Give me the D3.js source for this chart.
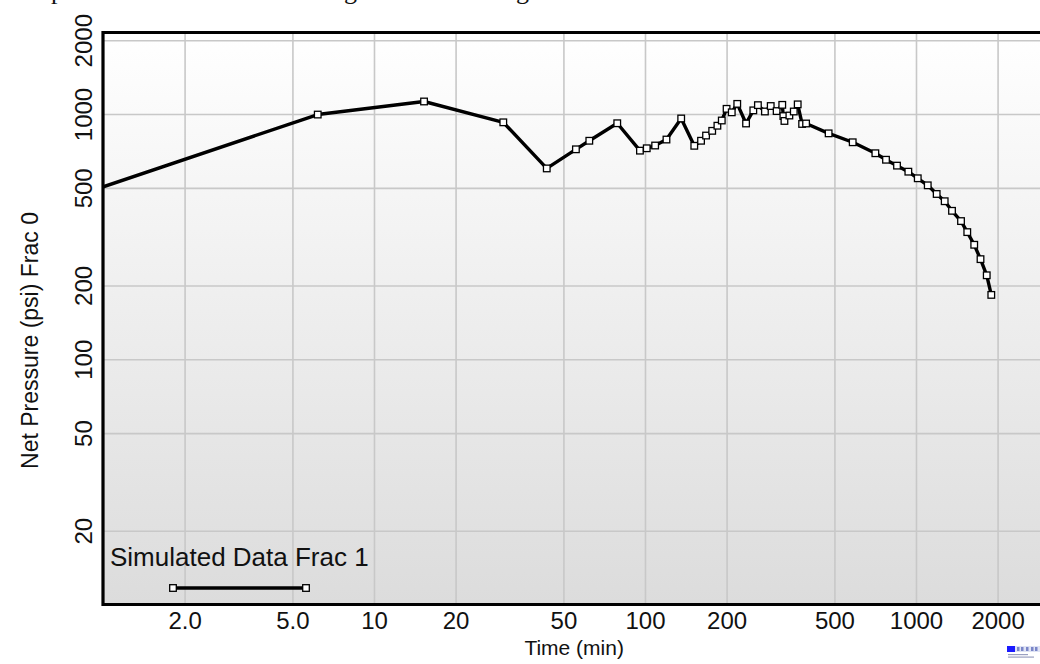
<!DOCTYPE html>
<html>
<head>
<meta charset="utf-8">
<script src="https://cdn.jsdelivr.net/npm/d3@7"></script>
<style>
  html, body { margin: 0; padding: 0; background: #ffffff; }
  svg { display: block; }
  text { font-family: "Liberation Sans", Arial, sans-serif; fill: #111; }
</style>
</head>
<body>
<svg id="chart" width="1040" height="664"></svg>
<script>
// Simulated net pressure history, fracture 1 (time in minutes, pressure in psi)
const timeMin = [
  0.9, 6.2, 15.3, 30, 43.4, 55.6, 62.3, 79, 95.8, 101.5,
  109, 120, 136, 152, 161, 168, 177, 185, 192, 200,
  209, 219, 236, 251, 261, 277, 291, 306, 321, 324,
  327, 341, 354, 366, 380, 393, 476, 584, 708, 775,
  851, 937, 1015, 1105, 1192, 1276, 1358, 1466, 1546, 1640,
  1730, 1824, 1896
];
const netPressure = [
  485, 995, 1125, 925, 600, 718, 778, 917, 709, 725,
  744, 787, 959, 742, 778, 817, 854, 896, 941, 1050,
  1016, 1100, 915, 1035, 1087, 1024, 1078, 1028, 1090, 981,
  937, 986, 1024, 1095, 911, 915, 834, 767, 692, 651,
  616, 582, 547, 512, 472, 441, 403, 366, 330, 293,
  256, 220, 183
];

// Axis ticks and their labels
const xTickValues = [2, 5, 10, 20, 50, 100, 200, 500, 1000, 2000];
const xTickLabels = ["2.0", "5.0", "10", "20", "50", "100", "200", "500", "1000", "2000"];
const yTickValues = [20, 50, 100, 200, 500, 1000, 2000];
const yTickLabels = ["20", "50", "100", "200", "500", "1000", "2000"];

const xDomain = [1, 3000];
const yDomain = [10, 2150];

const seriesName = "Simulated Data Frac 1";
const xTitle = "Time (min)";
const yTitle = "Net Pressure (psi) Frac 0";

const svg = d3.select("#chart");

// Plot frame (right edge runs past the window)
const plot = { left: 103, top: 32.5, right: 1045.3, bottom: 604.5 };

const x = d3.scaleLog().domain(xDomain).range([plot.left, plot.right]);
const y = d3.scaleLog().domain(yDomain).range([plot.bottom, plot.top]);

// Descenders of the text line running above the chart
const headLine = svg.append("g");
[["p", 51], ["g", 344], ["g", 516]].forEach(([ch, cx]) => {
  headLine.append("text").attr("x", cx).attr("y", -1)
    .attr("font-size", 26)
    .style("font-family", "'Liberation Serif', 'Times New Roman', serif")
    .text(ch);
});

// Background gradient
const defs = svg.append("defs");
const grad = defs.append("linearGradient").attr("id", "bg").attr("x1", 0).attr("y1", 0).attr("x2", 0).attr("y2", 1);
grad.append("stop").attr("offset", "0%").attr("stop-color", "#ffffff");
grad.append("stop").attr("offset", "100%").attr("stop-color", "#dcdcdc");

defs.append("clipPath").attr("id", "plotClip")
  .append("rect")
  .attr("x", plot.left).attr("y", plot.top)
  .attr("width", plot.right - plot.left).attr("height", plot.bottom - plot.top);

svg.append("rect")
  .attr("x", plot.left).attr("y", plot.top)
  .attr("width", plot.right - plot.left).attr("height", plot.bottom - plot.top)
  .attr("fill", "url(#bg)");

// Gridlines
const gridColor = "#c8c8c8";
const xGrid = svg.append("g")
  .attr("transform", `translate(0,${plot.bottom})`)
  .call(d3.axisBottom(x).tickValues(xTickValues).tickSize(-(plot.bottom - plot.top)).tickFormat(""));
xGrid.select(".domain").remove();
xGrid.selectAll("line").attr("stroke", gridColor).attr("stroke-width", 1.6);

const yGrid = svg.append("g")
  .attr("transform", `translate(${plot.left},0)`)
  .call(d3.axisLeft(y).tickValues(yTickValues).tickSize(-(plot.right - plot.left)).tickFormat(""));
yGrid.select(".domain").remove();
yGrid.selectAll("line").attr("stroke", gridColor).attr("stroke-width", 1.6);

// Frame
svg.append("path")
  .attr("d", `M${plot.right + 5},${plot.top}H${plot.left}V${plot.bottom}H${plot.right + 5}`)
  .attr("fill", "none").attr("stroke", "#000").attr("stroke-width", 3.2);

// Tick labels
const xAxis = svg.append("g")
  .attr("transform", `translate(0,${plot.bottom})`)
  .call(d3.axisBottom(x).tickValues(xTickValues).tickSize(0).tickPadding(0)
    .tickFormat((d, i) => xTickLabels[i]));
xAxis.select(".domain").remove();
xAxis.selectAll("text")
  .attr("y", 24).attr("dy", 0)
  .attr("font-size", 24).attr("font-family", "'Liberation Sans', Arial, sans-serif")
  .attr("fill", "#111");

const yAxis = svg.append("g")
  .attr("transform", `translate(${plot.left},0)`)
  .call(d3.axisLeft(y).tickValues(yTickValues).tickSize(0).tickPadding(0)
    .tickFormat((d, i) => yTickLabels[i]));
yAxis.select(".domain").remove();
yAxis.selectAll("text")
  .attr("transform", "rotate(-90)")
  .attr("x", 0).attr("y", -11).attr("dy", 0)
  .attr("text-anchor", "middle")
  .attr("font-size", 24).attr("font-family", "'Liberation Sans', Arial, sans-serif")
  .attr("fill", "#111");

// Axis titles
svg.append("text")
  .attr("x", (plot.left + plot.right) / 2).attr("y", 655)
  .attr("text-anchor", "middle").attr("font-size", 21)
  .text(xTitle);

svg.append("text")
  .attr("transform", `translate(38,${(plot.top + plot.bottom) / 2 + 22}) rotate(-90)`)
  .attr("text-anchor", "middle").attr("font-size", 23)
  .text(yTitle);

// Series line and markers
const points = timeMin.map((t, i) => ({ t, p: netPressure[i] }));
const series = svg.append("g").attr("clip-path", "url(#plotClip)");

series.append("path")
  .datum(points)
  .attr("fill", "none")
  .attr("stroke", "#000")
  .attr("stroke-width", 3.4)
  .attr("stroke-linejoin", "round")
  .attr("d", d3.line().x(d => x(d.t)).y(d => y(d.p)));

const mk = 6.6;
series.selectAll("rect.pt")
  .data(points)
  .join("rect")
  .attr("class", "pt")
  .attr("x", d => x(d.t) - mk / 2)
  .attr("y", d => y(d.p) - mk / 2)
  .attr("width", mk).attr("height", mk)
  .attr("fill", "#fff").attr("stroke", "#000").attr("stroke-width", 1.3);

// Legend
const legend = svg.append("g");
legend.append("text").attr("x", 110).attr("y", 566).attr("font-size", 26).text(seriesName);
legend.append("line")
  .attr("x1", 173).attr("x2", 306).attr("y1", 588).attr("y2", 588)
  .attr("stroke", "#000").attr("stroke-width", 3.4);
[173, 306].forEach(cx => {
  legend.append("rect")
    .attr("x", cx - mk / 2).attr("y", 588 - mk / 2)
    .attr("width", mk).attr("height", mk)
    .attr("fill", "#fff").attr("stroke", "#000").attr("stroke-width", 1.3);
});

// Small vendor logo in the corner
const logo = svg.append("g");
logo.append("rect").attr("x", 1007).attr("y", 646).attr("width", 8).attr("height", 6).attr("fill", "#1a1aff");
logo.append("rect").attr("x", 1015).attr("y", 646).attr("width", 25).attr("height", 6).attr("fill", "#dfe3f4");
[1017, 1021, 1026, 1031, 1035].forEach(lx => {
  logo.append("rect").attr("x", lx).attr("y", 647).attr("width", 2.5).attr("height", 4).attr("fill", "#7a86c8");
});
logo.append("rect").attr("x", 1008).attr("y", 654).attr("width", 20).attr("height", 1.2).attr("fill", "#9aa0c0");
logo.append("rect").attr("x", 1008).attr("y", 656.5).attr("width", 26).attr("height", 1.2).attr("fill", "#9aa0c0");
</script>
</body>
</html>
